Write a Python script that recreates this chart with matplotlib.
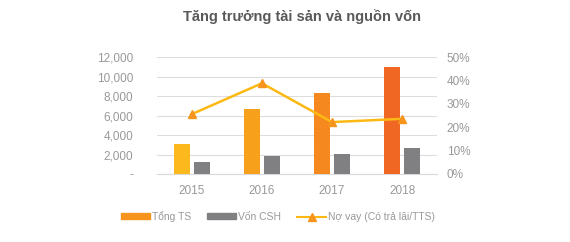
import matplotlib.pyplot as plt
from matplotlib.lines import Line2D
from matplotlib.patches import Patch
import numpy as np

plt.rcParams['font.family'] = ['Liberation Sans', 'DejaVu Sans']

years = ["2015", "2016", "2017", "2018"]
tong_ts = [3050, 6630, 8340, 11000]
von_csh = [1260, 1810, 2050, 2630]
no_vay = [25.6, 38.8, 22.2, 23.6]

ts_colors = ["#FDB81E", "#F7A01C", "#F5891F", "#F06623"]
csh_color = "#808083"
line_color = "#FDB913"
marker_color = "#F7941D"
text_color = "#999999"

fig = plt.figure(figsize=(5.7, 2.42), dpi=100)
ax = fig.add_axes([0.275, 0.281, 0.492, 0.483])
ax2 = ax.twinx()

x = np.arange(len(years))
w = 0.23
ax.bar(x - w / 2 - 0.03, tong_ts, width=w, color=ts_colors, zorder=3)
ax.bar(x + w / 2 + 0.03, von_csh, width=w, color=csh_color, zorder=3)

ax.set_ylim(0, 12000)
ax.set_xlim(-0.5, 3.5)
ax.set_yticks(range(0, 12001, 2000))
ax.set_yticklabels(["-"] + [f"{v:,}" for v in range(2000, 12001, 2000)])
ax.set_xticks(x)
ax.set_xticklabels(years)
ax.grid(axis='y', color='#DDDDDD', linewidth=0.8, zorder=0)

ax2.plot(x, no_vay, color=line_color, linewidth=1.8, marker='^', markersize=6,
         markerfacecolor=marker_color, markeredgecolor=marker_color, zorder=4)
ax2.set_ylim(0, 50)
ax2.set_yticks(range(0, 51, 10))
ax2.set_yticklabels([f"{v}%" for v in range(0, 51, 10)])

for a in (ax, ax2):
    for s in a.spines.values():
        s.set_visible(False)
    a.tick_params(length=0, labelsize=8.5, labelcolor=text_color, pad=7)
ax.spines['bottom'].set_visible(True)
ax.spines['bottom'].set_color('#D9D9D9')
ax.tick_params(axis='x', pad=8)
ax.tick_params(axis='y', pad=17)

fig.text(0.53, 0.93, "Tăng trưởng tài sản và nguồn vốn", ha='center', va='center',
         fontsize=10.5, fontweight='bold', color='#595959')

handles = [
    Patch(color="#F7941D"),
    Patch(color=csh_color),
    Line2D([0], [0], color=line_color, linewidth=1.5, marker='^', markersize=6,
           markerfacecolor=marker_color, markeredgecolor=marker_color),
]
labels = ["Tổng TS", "Vốn CSH", "Nợ vay (Có trả lãi/TTS)"]
fig.legend(handles, labels, loc='center', bbox_to_anchor=(0.488, 0.105), ncol=3,
           frameon=False, fontsize=7.5, labelcolor=text_color, handlelength=2.8,
           handleheight=0.55, handletextpad=0.2, columnspacing=1.5)

fig.savefig("out.png", dpi=100)
